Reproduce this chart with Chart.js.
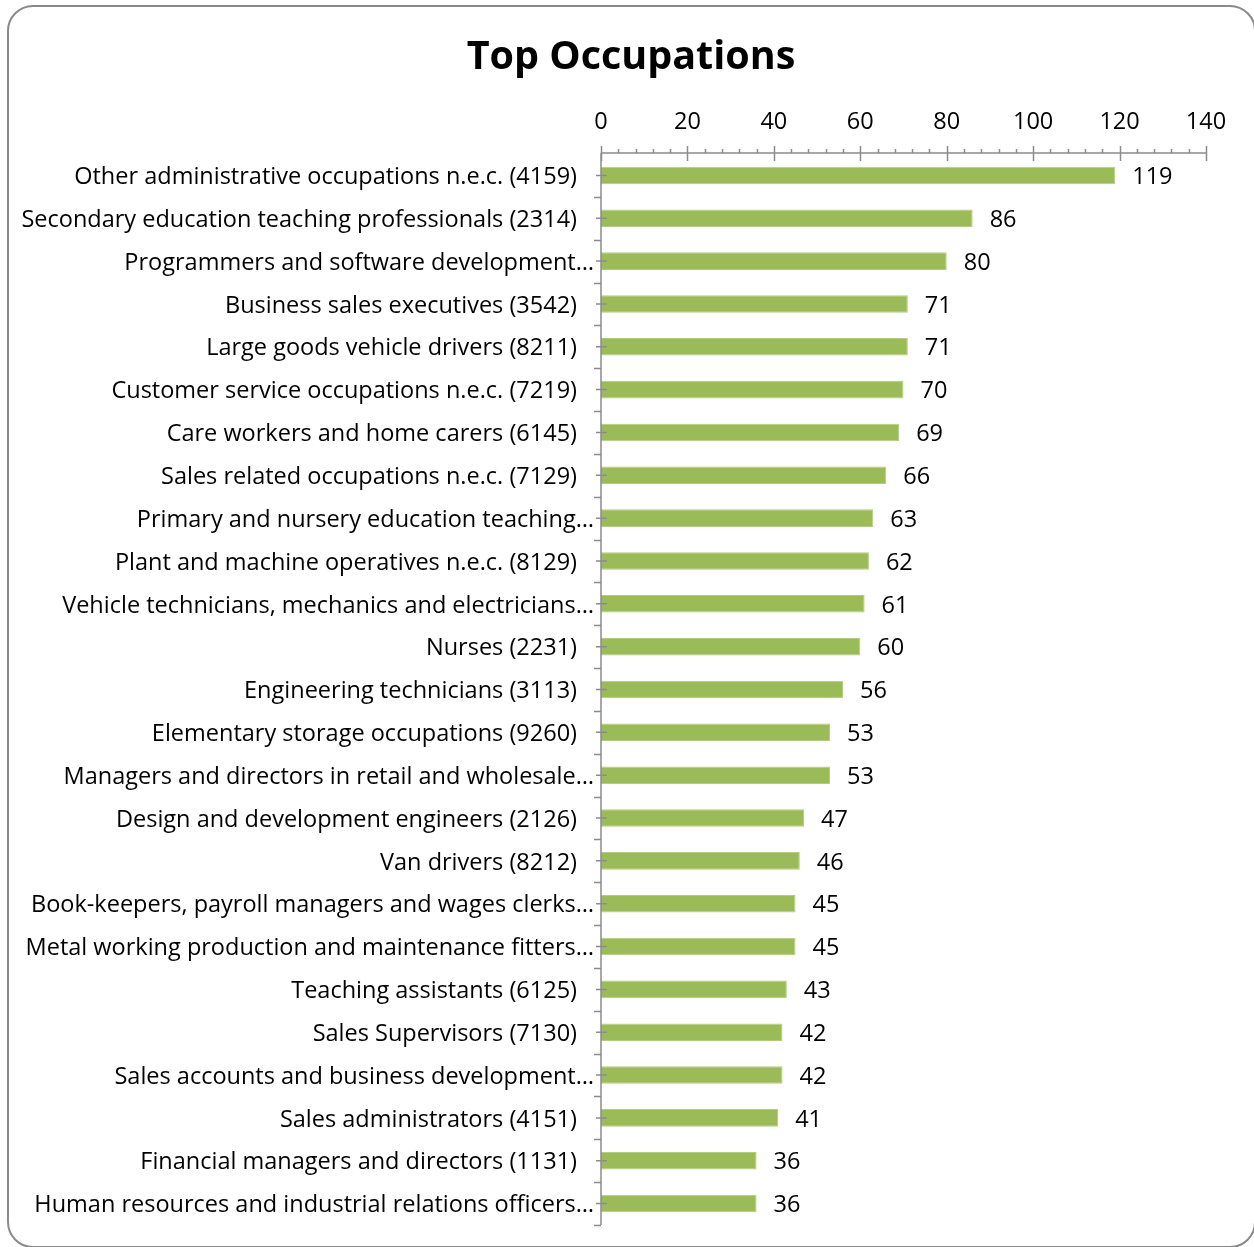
<!DOCTYPE html>
<html>
<head>
<meta charset="utf-8">
<script src="https://cdn.jsdelivr.net/npm/chart.js@4"></script>
<style>
  html, body { margin: 0; padding: 0; background: #fff; }
  #wrap { position: relative; width: 1254px; height: 1247px; overflow: hidden; }
  #frame {
    position: absolute; left: 7px; top: 5px; width: 1245px; height: 1239px;
    border: 2px solid #8a8a8a; border-radius: 26px; pointer-events: none;
  }
  canvas { position: absolute; left: 0; top: 0; }
</style>
</head>
<body>
<div id="wrap">
  <canvas id="myChart" width="1254" height="1247"></canvas>
  <div id="frame"></div>
</div>
<script>
var occupations = [
  'Other administrative occupations n.e.c. (4159)',
  'Secondary education teaching professionals (2314)',
  'Programmers and software development\u2026',
  'Business sales executives (3542)',
  'Large goods vehicle drivers (8211)',
  'Customer service occupations n.e.c. (7219)',
  'Care workers and home carers (6145)',
  'Sales related occupations n.e.c. (7129)',
  'Primary and nursery education teaching\u2026',
  'Plant and machine operatives n.e.c. (8129)',
  'Vehicle technicians, mechanics and electricians\u2026',
  'Nurses (2231)',
  'Engineering technicians (3113)',
  'Elementary storage occupations (9260)',
  'Managers and directors in retail and wholesale\u2026',
  'Design and development engineers (2126)',
  'Van drivers (8212)',
  'Book-keepers, payroll managers and wages clerks\u2026',
  'Metal working production and maintenance fitters\u2026',
  'Teaching assistants (6125)',
  'Sales Supervisors (7130)',
  'Sales accounts and business development\u2026',
  'Sales administrators (4151)',
  'Financial managers and directors (1131)',
  'Human resources and industrial relations officers\u2026'
];
var counts = [119, 86, 80, 71, 71, 70, 69, 66, 63, 62, 61, 60, 56, 53, 53, 47, 46, 45, 45, 43, 42, 42, 41, 36, 36];
var xTicks = [0, 20, 40, 60, 80, 100, 120, 140];
var chartTitle = 'Top Occupations';

var FONT = "'Open Sans', sans-serif";
var axisColor = '#8c8c8c';

// title, axis lines, tick marks, category labels and value labels
var drawExtras = {
  id: 'drawExtras',
  afterDraw: function(chart) {
    var c = chart.ctx;
    var x = chart.scales.x, y = chart.scales.y;
    var area = chart.chartArea;
    var half = (y.getPixelForValue(1) - y.getPixelForValue(0)) / 2;
    c.save();

    c.fillStyle = '#000';
    c.font = 'bold 39.5px ' + FONT;
    c.textAlign = 'center';
    c.textBaseline = 'middle';
    c.fillText(chartTitle, 631, 58);

    c.strokeStyle = axisColor;
    c.lineWidth = 1.5;
    c.beginPath();
    var axY = area.top - 1;
    // x axis (top)
    c.moveTo(area.left, axY); c.lineTo(area.right, axY);
    for (var v = 0; v <= 140; v += 4) {
      var px = Math.round(x.getPixelForValue(v)) + 0.5;
      if (v % 20 === 0) { c.moveTo(px, axY - 7); c.lineTo(px, axY + 8); }
      else { c.moveTo(px, axY - 4); c.lineTo(px, axY); }
    }
    // y axis
    c.moveTo(area.left, axY); c.lineTo(area.left, area.bottom);
    for (var i = 0; i < counts.length; i++) {
      var cy = y.getPixelForValue(i);
      c.moveTo(area.left - 5, cy); c.lineTo(area.left + 6, cy);
      var by = Math.round(cy + half) + 0.5;
      c.moveTo(area.left - 7, by); c.lineTo(area.left, by);
    }
    c.stroke();

    c.font = '23.5px ' + FONT;
    for (var j = 0; j < occupations.length; j++) {
      var ly = y.getPixelForValue(j) + 2;
      var lab = occupations[j];
      c.textAlign = 'right';
      var rx = lab.slice(-1) === '\u2026' ? area.left - 7 : area.left - 24;
      c.fillText(lab, rx, ly);
      c.textAlign = 'left';
      c.fillText(String(counts[j]), x.getPixelForValue(counts[j]) + 17, ly);
    }
    c.restore();
  }
};

var ctx = document.getElementById('myChart');
var myChart = new Chart(ctx, {
  type: 'bar',
  data: {
    labels: occupations,
    datasets: [{
      data: counts,
      backgroundColor: '#9bbb59',
      borderColor: '#b3cc83',
      borderWidth: 1,
      barPercentage: 0.41,
      categoryPercentage: 1
    }]
  },
  options: {
    indexAxis: 'y',
    responsive: false,
    animation: false,
    layout: { padding: { left: 0, right: 48, top: 92, bottom: 22 } },
    plugins: {
      legend: { display: false },
      tooltip: { enabled: false },
      title: { display: false }
    },
    scales: {
      x: {
        position: 'top',
        min: 0,
        max: 140,
        afterBuildTicks: function(scale) {
          scale.ticks = xTicks.map(function(v) { return { value: v }; });
        },
        afterFit: function(scale) { scale.height = 62; },
        grid: { display: false },
        border: { display: false },
        ticks: {
          padding: 10,
          color: '#000',
          font: { family: FONT, size: 23.5 }
        }
      },
      y: {
        afterFit: function(scale) { scale.width = 601; },
        grid: { display: false },
        border: { display: false },
        ticks: { display: false }
      }
    }
  },
  plugins: [drawExtras]
});
</script>
</body>
</html>
